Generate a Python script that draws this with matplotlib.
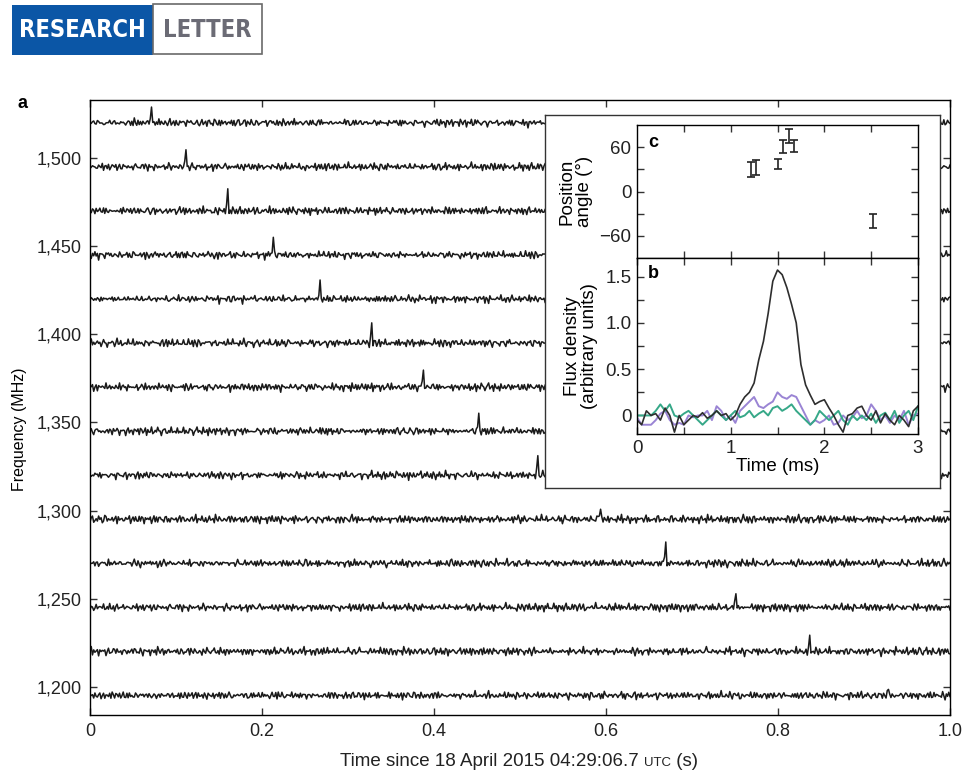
import numpy as np
import matplotlib
matplotlib.use("Agg")
import matplotlib.pyplot as plt
from matplotlib.patches import Rectangle
from matplotlib.offsetbox import TextArea, HPacker, AnchoredOffsetbox

plt.rcParams['font.family'] = ['Liberation Sans', 'DejaVu Sans']
plt.rcParams['axes.linewidth'] = 1.0

# ---------------- data ----------------
# Panel a: dispersed pulse seen in 14 frequency channels
channel_freq = [1520, 1495, 1470, 1445, 1420, 1395, 1370, 1345, 1320, 1295, 1270, 1245, 1220, 1195]
pulse_time = [0.072, 0.112, 0.160, 0.213, 0.267, 0.327, 0.387, 0.452, 0.521, 0.593, 0.670, 0.751, 0.837, 0.929]
pulse_height = [9.0, 9.5, 11.0, 10.5, 9.5, 11.0, 10.0, 10.0, 10.5, 7.0, 11.5, 8.5, 7.0, 4.5]
# hand-typed noise pattern (in units of 0.55 MHz), re-used with a different start per channel
NOISE = [0, 1, -1, 2, 0, -2, 1, 3, -1, 0, 2, -1, -3, 0, 1, -2, 2, 1, -1, 0,
         3, -2, 0, 1, -1, 2, -2, 0, 1, -3, 1, 2, 0, -1, 1, -2, 3, 0, -1, 2,
         -1, 0, -2, 1, 2, -1, 0, 3, -2, 1, 0, -1, 2, -3, 1, 0, 2, -1, 1, -2,
         0, 2, -1, -2, 1, 3, 0, -1, 2, -2, 1, 0, -3, 2, 1, -1, 0, 1, -2, 2,
         1, -1, 3, 0, -2, 1, -1, 2, 0, -3, 1, 2, -1, 0, 1, -2, 0, 2, -1, 1,
         -2, 3, 1, -1, 0, 2, -2, 1, -1, 0, 3, -1, -2, 1, 0, 2, -1, 1, -3, 0,
         2, 1, -1, -2, 0, 1, 3, -2, 1, 0, -1, 2, -1, 0, -2, 1, 2, -3, 1, 0,
         -1, 2, 0, 1, -2, -1, 2, 3, -1, 0, 1, -2, 2, -1, 0, 1, -3, 2, 0, -1,
         1, 0, -2, 2, 1, -1, 3, -2, 0, 1, -1, 2, 0, -2, 1, -1, 2, 0, -3, 1,
         0, 2, -1, 1, -2, 0, 3, -1, 1, -2, 2, 0, -1, 1, -2, 1, 3, -1, 0, -2]
noise_start = [0, 37, 74, 111, 148, 185, 23, 60, 97, 134, 171, 9, 46, 83]
noise_start2 = [50, 12, 140, 88, 5, 160, 120, 30, 70, 150, 95, 40, 130, 15]
n_samples = 700

# Panel c: position angle
pa_time = [1.22, 1.27, 1.50, 1.56, 1.62, 1.68, 2.52]
pa_angle = [30, 32, 37, 61, 75, 62, -40]
pa_err = [10, 10, 7, 9, 9, 8, 10]

# Panel b: pulse profiles
prof_time = [round(0.05 * i, 2) for i in range(61)]
prof_total = [-0.05, -0.10, 0.05, 0.00, 0.02, -0.05, 0.08, 0.00, -0.18, 0.00,
              -0.10, -0.05, 0.00, -0.02, 0.03, -0.03, 0.00, 0.05, 0.00, 0.02,
              -0.05, 0.00, 0.12, 0.20, 0.25, 0.35, 0.60, 0.80, 1.10, 1.45,
              1.57, 1.52, 1.38, 1.20, 1.00, 0.55, 0.33, 0.22, 0.12, 0.15,
              0.17, 0.08, 0.00, -0.10, -0.18, 0.00, 0.02, 0.08, 0.10, 0.00,
              -0.05, 0.05, -0.08, 0.02, -0.05, -0.10, 0.00, -0.05, -0.12, 0.05, 0.10]
prof_purple = [-0.02, -0.10, -0.10, -0.10, -0.05, 0.02, 0.05, -0.05, -0.10, -0.08,
               -0.10, 0.00, -0.02, 0.00, 0.00, 0.05, -0.05, 0.10, 0.05, -0.05,
               0.00, -0.08, 0.05, 0.10, 0.15, 0.20, 0.10, 0.08, 0.12, 0.15,
               0.25, 0.20, 0.18, 0.22, 0.20, 0.10, 0.00, -0.10, -0.05, -0.08,
               -0.05, 0.00, -0.10, -0.08, 0.00, -0.05, -0.02, 0.05, -0.03, 0.00,
               0.12, 0.05, -0.05, 0.00, -0.08, 0.00, -0.05, 0.05, -0.10, 0.00, 0.02]
prof_green = [0.00, 0.00, 0.00, 0.00, 0.05, 0.12, 0.05, 0.12, 0.00, -0.02,
              0.02, 0.05, 0.00, -0.05, -0.10, -0.05, 0.00, 0.05, 0.00, -0.05,
              0.00, 0.05, -0.02, 0.00, 0.05, -0.02, 0.02, 0.05, 0.00, 0.08,
              0.10, 0.05, 0.08, 0.12, 0.05, 0.00, -0.05, -0.10, -0.05, 0.05,
              0.00, -0.05, 0.00, 0.05, -0.05, -0.10, 0.00, -0.05, 0.00, -0.05,
              0.02, -0.08, 0.00, 0.03, -0.05, 0.05, -0.08, 0.00, 0.05, -0.05, 0.10]

main_xticks = [0, 0.2, 0.4, 0.6, 0.8, 1.0]
main_xticklabels = ['0', '0.2', '0.4', '0.6', '0.8', '1.0']
main_yticks = [1200, 1250, 1300, 1350, 1400, 1450, 1500]

# ---------------- figure ----------------
W, H = 963, 773
fig = plt.figure(figsize=(W / 100, H / 100), dpi=100)


def fx(px):
    return px / W


def fy(py):
    return 1 - py / H


# header
fig.add_artist(Rectangle((fx(12), fy(55)), fx(141), (50) / H, transform=fig.transFigure,
                         facecolor='#0b56a6', edgecolor='none'))
fig.add_artist(Rectangle((fx(153), fy(54)), fx(109), (50) / H, transform=fig.transFigure,
                         facecolor='white', edgecolor='#6a6a6a', lw=1.2))
fig.text(fx(82), fy(30), 'RESEARCH', color='white', fontsize=17, fontweight='bold',
         family='DejaVu Sans', fontstretch='condensed', ha='center', va='center')
fig.text(fx(207), fy(30), 'LETTER', color='#6b6b75', fontsize=17, fontweight='bold',
         family='DejaVu Sans', fontstretch='condensed', ha='center', va='center')

# panel a
ax = fig.add_axes([fx(90), fy(715), fx(950) - fx(90), fy(100) - fy(715)])
t = np.linspace(0, 1, n_samples)
noise_arr = np.array(NOISE, float)
for f, pt, ph, s1, s2 in zip(channel_freq, pulse_time, pulse_height, noise_start, noise_start2):
    a = np.resize(np.roll(noise_arr, -s1), n_samples)
    b = np.resize(np.roll(noise_arr, -s2)[:173][::-1], n_samples)
    y = (0.8 * a + 0.6 * b) * 0.68
    k = int(round(pt * (n_samples - 1)))
    y[k] += ph
    y[k - 1] += 0.3 * ph
    ax.plot(t, f + y, color='#1a1a1a', lw=1.1)
ax.set_xlim(0, 1)
ax.set_ylim(1184, 1533)
ax.set_xticks(main_xticks)
ax.set_xticklabels(main_xticklabels)
ax.set_yticks(main_yticks)
ax.set_yticklabels([f'{v:,}' for v in main_yticks])
ax.tick_params(direction='in', length=5, width=1, labelsize=13, top=True, right=True,
               colors='#333333', labelcolor='#222222', pad=6)
ax.set_ylabel('Frequency (MHz)', fontsize=11.5)
ax.yaxis.set_label_coords(-0.073, 0.465)
fig.text(fx(22), fy(104), 'a', fontsize=13, fontweight='bold', ha='center', va='center')

# x label with small-caps UTC
ta1 = TextArea('Time since 18 April 2015 04:29:06.7 ', textprops=dict(size=13.5, color='#222222'))
ta2 = TextArea('UTC', textprops=dict(size=9.5, color='#222222'))
ta3 = TextArea(' (s)', textprops=dict(size=13.5, color='#222222'))
pack = HPacker(children=[ta1, ta2, ta3], align='baseline', pad=0, sep=0)
fig.add_artist(AnchoredOffsetbox(loc='center', child=pack, frameon=False, pad=0, borderpad=0,
                                 bbox_to_anchor=(fx(519), fy(762)), bbox_transform=fig.transFigure))

# inset background box
bg = fig.add_axes([fx(545), fy(488), fx(940) - fx(545), fy(115) - fy(488)])
bg.set_xticks([])
bg.set_yticks([])
bg.set_facecolor('white')
for s in bg.spines.values():
    s.set_linewidth(1.0)
    s.set_color('#333333')

# panel c
axc = fig.add_axes([fx(637), fy(258), fx(918) - fx(637), fy(125) - fy(258)])
axc.errorbar(pa_time, pa_angle, yerr=pa_err, fmt='none', ecolor='#222222', elinewidth=1.2,
             capsize=3, capthick=1.2)
axc.set_xlim(0, 3)
axc.set_ylim(-90, 90)
axc.set_xticks([0.5, 1.0, 1.5, 2.0, 2.5])
axc.set_xticklabels([])
axc.set_yticks([-60, -30, 0, 30, 60])
axc.set_yticklabels(['\u221260', '', '0', '', '60'])
axc.tick_params(direction='in', length=5, width=1, labelsize=13.5, top=True, right=True,
                colors='#333333', labelcolor='#222222', pad=4)
axc.set_ylabel('Position\nangle (\u00b0)', fontsize=13.5, labelpad=5, linespacing=1.0)
axc.text(0.04, 0.93, 'c', transform=axc.transAxes, fontsize=13, fontweight='bold', va='top')

# panel b
axb = fig.add_axes([fx(637), fy(434), fx(918) - fx(637), fy(258) - fy(434)])
axb.plot(prof_time, prof_purple, color='#9a84d4', lw=1.4)
axb.plot(prof_time, prof_green, color='#36a888', lw=1.4)
axb.plot(prof_time, prof_total, color='#2e2e2e', lw=1.2)
axb.set_xlim(0, 3)
axb.set_ylim(-0.2, 1.7)
axb.set_xticks([0, 0.5, 1, 1.5, 2, 2.5, 3])
axb.set_xticklabels(['0', '', '1', '', '2', '', '3'])
axb.set_yticks([0, 0.25, 0.5, 0.75, 1.0, 1.25, 1.5])
axb.set_yticklabels(['0', '', '0.5', '', '1.0', '', '1.5'])
axb.tick_params(direction='in', length=5, width=1, labelsize=13.5, top=True, right=True,
                colors='#333333', labelcolor='#222222', pad=4)
axb.set_xlabel('Time (ms)', fontsize=13.5, labelpad=1)
axb.set_ylabel('Flux density\n(arbitrary units)', fontsize=13.5, labelpad=5, linespacing=1.0)
axb.text(0.04, 0.96, 'b', transform=axb.transAxes, fontsize=13, fontweight='bold', va='top')

fig.savefig('out.png', dpi=100)
